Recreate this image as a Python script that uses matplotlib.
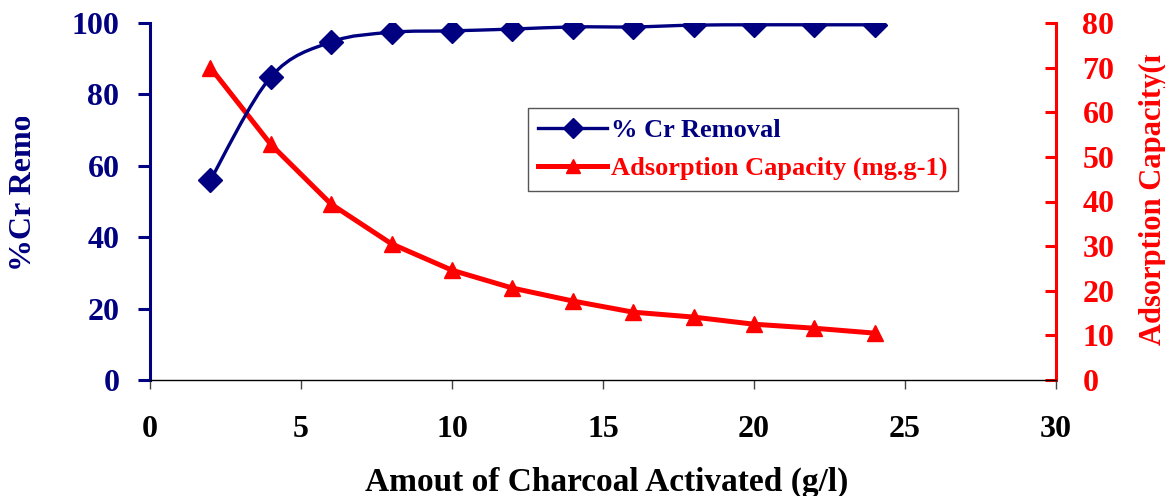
import numpy as np
import matplotlib
matplotlib.use('Agg')
import matplotlib.pyplot as plt
from matplotlib.path import Path
from matplotlib.patches import PathPatch
from matplotlib.lines import Line2D
from matplotlib.transforms import Bbox, TransformedBbox

# data
dose = [2, 4, 6, 8, 10, 12, 14, 16, 18, 20, 22, 24]
removal = [56.0, 84.9, 94.7, 97.4, 97.8, 98.3, 98.9, 98.9, 99.4, 99.5, 99.5, 99.5]
capacity = [70.0, 52.8, 39.4, 30.5, 24.6, 20.6, 17.7, 15.2, 14.1, 12.5, 11.6, 10.5]

navy = '#000080'
red = '#FF0000'
plt.rcParams['font.family'] = ['Liberation Serif', 'DejaVu Serif']
plt.rcParams['font.weight'] = 'bold'

fig = plt.figure(figsize=(11.65, 4.96), dpi=100)
ax1 = fig.add_axes([150 / 1165, 1 - 380 / 496, 906 / 1165, 357 / 496])
ax2 = ax1.twinx()


def smooth_path(x, y):
    # excel style smoothed line: cubic bezier between the points
    x = np.asarray(x, float)
    y = np.asarray(y, float)
    n = len(x)
    verts = [(x[0], y[0])]
    codes = [Path.MOVETO]
    for i in range(n - 1):
        p0 = np.array([x[max(i - 1, 0)], y[max(i - 1, 0)]])
        p1 = np.array([x[i], y[i]])
        p2 = np.array([x[i + 1], y[i + 1]])
        p3 = np.array([x[min(i + 2, n - 1)], y[min(i + 2, n - 1)]])
        c1 = p1 + (p2 - p0) / 6.0
        c2 = p2 - (p3 - p1) / 6.0
        verts += [tuple(c1), tuple(c2), tuple(p2)]
        codes += [Path.CURVE4] * 3
    return Path(verts, codes)


ax1.add_patch(PathPatch(smooth_path(dose, removal), facecolor='none',
                        edgecolor=navy, lw=2.4, zorder=3))
ax1.plot(dose, removal, linestyle='none', marker='D', ms=12, color=navy, zorder=4)
ax2.plot(dose, capacity, color=red, lw=3.6, marker='^', ms=11, zorder=3)

ax1.set_xlim(0, 30)
ax1.set_ylim(0, 100)
ax2.set_ylim(0, 80)
ax1.set_xticks(range(0, 31, 5))
ax1.set_yticks(range(0, 101, 20))
ax2.set_yticks(range(0, 81, 10))

for s in ['top', 'right']:
    ax1.spines[s].set_visible(False)
for s in ['top', 'left', 'bottom']:
    ax2.spines[s].set_visible(False)
ax1.spines['left'].set_color(navy)
ax1.spines['left'].set_linewidth(2.2)
ax1.spines['bottom'].set_color('black')
ax1.spines['bottom'].set_linewidth(1)
ax2.spines['right'].set_color(red)
ax2.spines['right'].set_linewidth(2.2)

ax1.tick_params(axis='x', direction='out', length=6.5, width=1, color='#444444',
                labelsize=23, pad=19, labelcolor='black')
ax1.tick_params(axis='y', direction='out', length=9, width=2.2, color=navy,
                labelsize=23, pad=13, labelcolor=navy)
ax2.tick_params(axis='y', direction='in', length=8, width=2.2, color=red,
                labelsize=23, pad=19, labelcolor=red)

fig.text(607 / 1165, 1 - 482 / 496, 'Amout of Charcoal Activated (g/l)',
         ha='center', va='center', fontsize=24, fontweight='bold', color='black')

# axis titles partly cut off as in the original
lt = fig.text(24 / 1165, 1 - 271 / 496, '%Cr Removal', rotation=90, ha='center', va='bottom',
              fontsize=23, fontweight='bold', color=navy)
lt.set_clip_box(TransformedBbox(Bbox([[0, 0], [1, 1 - 117 / 496]]), fig.transFigure))
rt = fig.text(1153 / 1165, 1 - 345 / 496, 'Adsorption Capacity(mg/g)', rotation=90, ha='center',
              va='bottom', fontsize=22, fontweight='bold', color=red)
rt.set_clip_box(TransformedBbox(Bbox([[0, 0], [1, 1 - 55 / 496]]), fig.transFigure))

handles = [Line2D([], [], color=navy, lw=2.4, marker='D', ms=10),
           Line2D([], [], color=red, lw=3.6, marker='^', ms=10)]
leg = ax1.legend(handles, ['% Cr Removal', 'Adsorption Capacity (mg.g-1)'],
                 loc='upper left', bbox_to_anchor=(0.417, 0.762), borderaxespad=0,
                 fancybox=False, edgecolor='#555555', framealpha=1,
                 prop={'size': 19, 'weight': 'bold'}, handlelength=2.6,
                 handletextpad=0.15, labelspacing=0.55, borderpad=0.4)
leg.get_frame().set_linewidth(1)
leg.set_zorder(10)
for txt, c in zip(leg.get_texts(), [navy, red]):
    txt.set_color(c)
ax1.set_zorder(ax2.get_zorder() + 1)
ax1.patch.set_visible(False)

fig.savefig('out.png', dpi=100)
